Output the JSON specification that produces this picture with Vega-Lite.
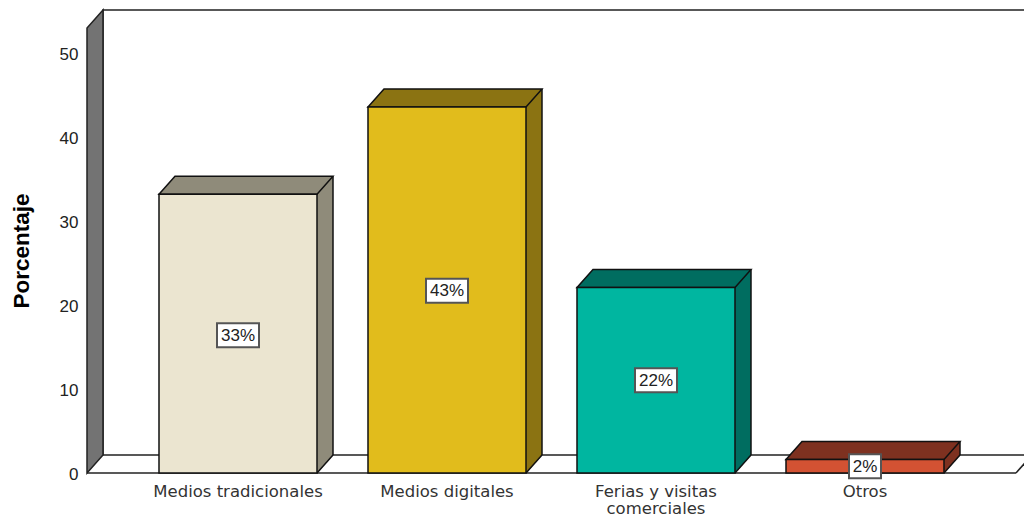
{
"$schema":"https://vega.github.io/schema/vega-lite/v6.json",
"width":929,"height":445,
"autosize":{"type":"none"},
"padding":{"left":87,"top":28,"right":8,"bottom":44},
"background":"white",
"config":{"view":{"stroke":null},"font":"Liberation Sans"},
"data":{"values":[
{"medio":"Medios tradicionales","porcentaje":33.2,"mitad":16.4,"etiqueta":"33%"},
{"medio":"Medios digitales","porcentaje":43.6,"mitad":21.7,"etiqueta":"43%"},
{"medio":"Ferias y visitas comerciales","porcentaje":22.1,"mitad":11.05,"etiqueta":"22%"},
{"medio":"Otros","porcentaje":1.6,"mitad":0.8,"etiqueta":"2%"}
]},
"resolve":{"scale":{"x":"independent"}},
"encoding":{"y":{"type":"quantitative","scale":{"domain":[0,53],"nice":false},"axis":{"title":"Porcentaje","titleFont":"Liberation Sans","titleFontSize":22.5,"titleFontWeight":"bold","titleColor":"#000","titlePadding":26,"values":[0,10,20,30,40,50],"domain":false,"ticks":false,"grid":false,"labelFont":"Liberation Sans","labelFontSize":17,"labelColor":"#222","labelPadding":9,"labelOffset":1}}},
"layer":[
{"data":{"values":[{"pared":"fondo"}]},
 "layer":[
  {"mark":{"type":"rect","fill":"white","stroke":"#222","strokeWidth":1.5,"xOffset":16,"x2Offset":16,"yOffset":-18,"y2Offset":-18},
   "encoding":{"x":{"datum":0,"type":"quantitative","scale":{"domain":[0,1]},"axis":null},"x2":{"datum":1},"y":{"datum":0},"y2":{"datum":53}}},
  {"mark":{"type":"point","filled":true,"fill":"#737373","stroke":"#222","strokeWidth":1.5,"size":4,"opacity":1,"shape":"M0,0V-445L16,-463V-18Z"},
   "encoding":{"x":{"datum":0,"type":"quantitative","scale":{"domain":[0,1]},"axis":null},"y":{"datum":0}}},
  {"mark":{"type":"point","filled":false,"stroke":"#222","strokeWidth":1.5,"size":4,"opacity":1,"shape":"M0,0L16,-18"},
   "encoding":{"x":{"datum":1,"type":"quantitative","scale":{"domain":[0,1]},"axis":null},"y":{"datum":0}}},
  {"mark":{"type":"rule","stroke":"#222","strokeWidth":1.5},
   "encoding":{"x":{"datum":0,"type":"quantitative","scale":{"domain":[0,1]},"axis":null},"x2":{"datum":1},"y":{"datum":0}}}
 ]},
{"encoding":{
  "x":{"field":"medio","type":"nominal","sort":null,"scale":{"domain":["Medios tradicionales","Medios digitales","Ferias y visitas comerciales","Otros"],"paddingInner":0.244,"paddingOuter":0.3445},
   "axis":{"title":null,"domain":false,"ticks":false,"labelAngle":0,"labelFont":"DejaVu Sans","labelFontSize":16.5,"labelColor":"#333","labelPadding":10,"labelLineHeight":17,"labelExpr":"datum.label=='Ferias y visitas comerciales'?['Ferias y visitas','comerciales']:datum.label"}},
  "y":{"field":"porcentaje","type":"quantitative"}
 },
 "layer":[
  {"mark":{"type":"rule","strokeWidth":2,"xOffset":1,"yOffset":-1.1,"y2Offset":-1.1},"encoding":{"x":{"field":"medio","type":"nominal","bandPosition":1},"y2":{"datum":0},"color":{"field":"medio","type":"nominal","sort":null,"legend":null,"scale":{"domain":["Medios tradicionales","Medios digitales","Ferias y visitas comerciales","Otros"],"range":["#8F8B7A","#8B7312","#006D60","#7E3120"]}}}},
  {"mark":{"type":"rule","strokeWidth":2,"xOffset":2,"yOffset":-2.2,"y2Offset":-2.2},"encoding":{"x":{"field":"medio","type":"nominal","bandPosition":1},"y2":{"datum":0},"color":{"field":"medio","type":"nominal","sort":null,"legend":null}}},
  {"mark":{"type":"rule","strokeWidth":2,"xOffset":3,"yOffset":-3.4,"y2Offset":-3.4},"encoding":{"x":{"field":"medio","type":"nominal","bandPosition":1},"y2":{"datum":0},"color":{"field":"medio","type":"nominal","sort":null,"legend":null}}},
  {"mark":{"type":"rule","strokeWidth":2,"xOffset":4,"yOffset":-4.5,"y2Offset":-4.5},"encoding":{"x":{"field":"medio","type":"nominal","bandPosition":1},"y2":{"datum":0},"color":{"field":"medio","type":"nominal","sort":null,"legend":null}}},
  {"mark":{"type":"rule","strokeWidth":2,"xOffset":5,"yOffset":-5.6,"y2Offset":-5.6},"encoding":{"x":{"field":"medio","type":"nominal","bandPosition":1},"y2":{"datum":0},"color":{"field":"medio","type":"nominal","sort":null,"legend":null}}},
  {"mark":{"type":"rule","strokeWidth":2,"xOffset":6,"yOffset":-6.8,"y2Offset":-6.8},"encoding":{"x":{"field":"medio","type":"nominal","bandPosition":1},"y2":{"datum":0},"color":{"field":"medio","type":"nominal","sort":null,"legend":null}}},
  {"mark":{"type":"rule","strokeWidth":2,"xOffset":7,"yOffset":-7.9,"y2Offset":-7.9},"encoding":{"x":{"field":"medio","type":"nominal","bandPosition":1},"y2":{"datum":0},"color":{"field":"medio","type":"nominal","sort":null,"legend":null}}},
  {"mark":{"type":"rule","strokeWidth":2,"xOffset":8,"yOffset":-9,"y2Offset":-9},"encoding":{"x":{"field":"medio","type":"nominal","bandPosition":1},"y2":{"datum":0},"color":{"field":"medio","type":"nominal","sort":null,"legend":null}}},
  {"mark":{"type":"rule","strokeWidth":2,"xOffset":9,"yOffset":-10.1,"y2Offset":-10.1},"encoding":{"x":{"field":"medio","type":"nominal","bandPosition":1},"y2":{"datum":0},"color":{"field":"medio","type":"nominal","sort":null,"legend":null}}},
  {"mark":{"type":"rule","strokeWidth":2,"xOffset":10,"yOffset":-11.2,"y2Offset":-11.2},"encoding":{"x":{"field":"medio","type":"nominal","bandPosition":1},"y2":{"datum":0},"color":{"field":"medio","type":"nominal","sort":null,"legend":null}}},
  {"mark":{"type":"rule","strokeWidth":2,"xOffset":11,"yOffset":-12.4,"y2Offset":-12.4},"encoding":{"x":{"field":"medio","type":"nominal","bandPosition":1},"y2":{"datum":0},"color":{"field":"medio","type":"nominal","sort":null,"legend":null}}},
  {"mark":{"type":"rule","strokeWidth":2,"xOffset":12,"yOffset":-13.5,"y2Offset":-13.5},"encoding":{"x":{"field":"medio","type":"nominal","bandPosition":1},"y2":{"datum":0},"color":{"field":"medio","type":"nominal","sort":null,"legend":null}}},
  {"mark":{"type":"rule","strokeWidth":2,"xOffset":13,"yOffset":-14.6,"y2Offset":-14.6},"encoding":{"x":{"field":"medio","type":"nominal","bandPosition":1},"y2":{"datum":0},"color":{"field":"medio","type":"nominal","sort":null,"legend":null}}},
  {"mark":{"type":"rule","strokeWidth":2,"xOffset":14,"yOffset":-15.8,"y2Offset":-15.8},"encoding":{"x":{"field":"medio","type":"nominal","bandPosition":1},"y2":{"datum":0},"color":{"field":"medio","type":"nominal","sort":null,"legend":null}}},
  {"mark":{"type":"rule","strokeWidth":2,"xOffset":15,"yOffset":-16.9,"y2Offset":-16.9},"encoding":{"x":{"field":"medio","type":"nominal","bandPosition":1},"y2":{"datum":0},"color":{"field":"medio","type":"nominal","sort":null,"legend":null}}},
  {"mark":{"type":"rule","strokeWidth":1.5,"stroke":"#111","xOffset":16,"yOffset":-18,"y2Offset":-18},"encoding":{"x":{"field":"medio","type":"nominal","bandPosition":1},"y2":{"datum":0}}},
  {"mark":{"type":"point","filled":true,"stroke":"#111","strokeWidth":1.5,"size":4,"opacity":1,"shape":"M0,0L16,-18H174L158,0Z"},
   "encoding":{"x":{"field":"medio","type":"nominal","bandPosition":0},"color":{"field":"medio","type":"nominal","sort":null,"legend":null}}},
  {"mark":{"type":"point","filled":false,"stroke":"#111","strokeWidth":1.5,"size":4,"opacity":1,"shape":"M0,0L16,-18"},
   "encoding":{"x":{"field":"medio","type":"nominal","bandPosition":1},"y":{"datum":0}}},
  {"mark":{"type":"rect","stroke":"#111","strokeWidth":1.5},"encoding":{"y2":{"datum":0},"fill":{"field":"medio","type":"nominal","sort":null,"legend":null,"scale":{"domain":["Medios tradicionales","Medios digitales","Ferias y visitas comerciales","Otros"],"range":["#EBE5D0","#E1BC1C","#00B6A0","#D35233"]}}}},
  {"transform":[{"filter":"datum.medio!='Otros'"}],"mark":{"type":"rect","width":42,"height":24,"fill":"white","stroke":"#555","strokeWidth":2},"encoding":{"y":{"field":"mitad","type":"quantitative"}}},
  {"transform":[{"filter":"datum.medio=='Otros'"}],"mark":{"type":"rect","width":32,"height":24,"fill":"white","stroke":"#555","strokeWidth":2},"encoding":{"y":{"field":"mitad","type":"quantitative"}}},
  {"mark":{"type":"text","font":"Liberation Sans","fontSize":17,"fill":"#222","baseline":"middle","dy":0.5},"encoding":{"y":{"field":"mitad","type":"quantitative"},"text":{"field":"etiqueta"}}}
 ]}
]}
